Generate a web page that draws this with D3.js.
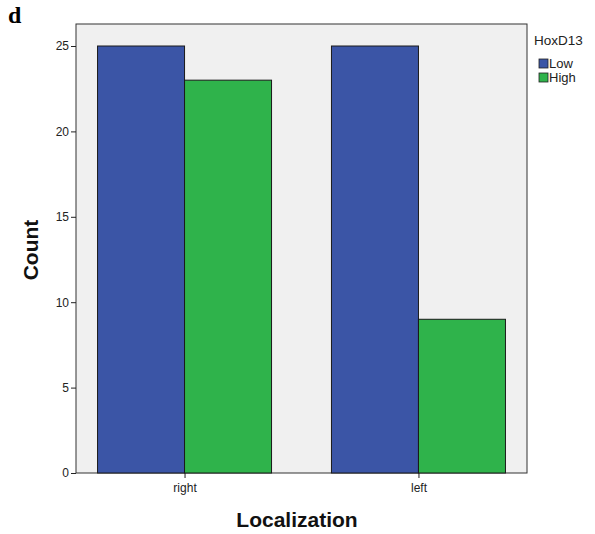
<!DOCTYPE html>
<html>
<head>
<meta charset="utf-8">
<script src="https://cdn.jsdelivr.net/npm/d3@7"></script>
<style>
  body { margin: 0; background: #fff; }
  svg { display: block; }
</style>
</head>
<body>
<div id="chart"></div>
<script>
// 데이터
const categories = ['right', 'left'];
const groups = ['Low', 'High'];
const lowValues = [25, 25];
const highValues = [23, 9];
const yTicks = [0, 5, 10, 15, 20, 25];
const colors = { Low: '#3b55a6', High: '#2fb34b' };

const W = 595, H = 534;
const plot = { left: 76, right: 527, top: 24, bottom: 473 };

const svg = d3.select('#chart').append('svg')
    .attr('width', W)
    .attr('height', H)
    .style('font-family', 'Arial, "Liberation Sans", sans-serif');

// 스케일
const x0 = d3.scalePoint()
    .domain(categories)
    .range([plot.left, plot.right])
    .padding(0.464);
const x1 = d3.scaleBand()
    .domain(groups)
    .range([-87, 87]);
const y = d3.scaleLinear()
    .domain([0, 25])
    .range([plot.bottom, 46]);

// 배경 프레임
svg.append('rect')
    .attr('x', plot.left)
    .attr('y', plot.top)
    .attr('width', plot.right - plot.left)
    .attr('height', plot.bottom - plot.top)
    .style('fill', '#f0f0f0')
    .style('stroke', '#333')
    .style('stroke-width', 1);

// 막대
const rows = categories.map((c, i) => ({ cat: c, Low: lowValues[i], High: highValues[i] }));
svg.append('g').selectAll('g')
    .data(rows)
    .join('g')
    .attr('transform', d => `translate(${x0(d.cat)},0)`)
    .selectAll('rect')
    .data(d => groups.map(k => ({ key: k, value: d[k] })))
    .join('rect')
    .attr('x', d => x1(d.key))
    .attr('y', d => y(d.value))
    .attr('width', x1.bandwidth())
    .attr('height', d => y(0) - y(d.value))
    .style('fill', d => colors[d.key])
    .style('stroke', '#1a1a1a')
    .style('stroke-width', 1);

// 축
const yAxis = svg.append('g')
    .attr('transform', `translate(${plot.left},0)`)
    .call(d3.axisLeft(y).tickValues(yTicks).tickSize(5).tickPadding(2));
const xAxis = svg.append('g')
    .attr('transform', `translate(0,${plot.bottom})`)
    .call(d3.axisBottom(x0).tickSize(5).tickPadding(5));
[yAxis, xAxis].forEach(a => {
    a.select('.domain').remove();
    a.selectAll('line').style('stroke', '#222');
    a.selectAll('text').style('font-size', '12px').style('fill', '#222').style('font-family', 'Arial, "Liberation Sans", sans-serif');
});

// 축 제목
svg.append('text')
    .attr('transform', 'translate(38,250) rotate(-90)')
    .attr('text-anchor', 'middle')
    .style('font-size', '21px')
    .style('font-weight', 'bold')
    .style('fill', '#111')
    .text('Count');
svg.append('text')
    .attr('x', 297)
    .attr('y', 527)
    .attr('text-anchor', 'middle')
    .style('font-size', '21px')
    .style('font-weight', 'bold')
    .style('fill', '#111')
    .text('Localization');

// 패널 라벨
svg.append('text')
    .attr('x', 8)
    .attr('y', 23)
    .style('font-family', '"Liberation Serif", "Times New Roman", serif')
    .style('font-size', '24px')
    .style('font-weight', 'bold')
    .text('d');

// 범례
svg.append('text')
    .attr('x', 534)
    .attr('y', 45)
    .style('font-size', '13.5px')
    .style('fill', '#222')
    .text('HoxD13');
const legend = svg.append('g').selectAll('g')
    .data(groups)
    .join('g')
    .attr('transform', (d, i) => `translate(539,${59 + i * 14})`);
legend.append('rect')
    .attr('width', 9)
    .attr('height', 9)
    .style('fill', d => colors[d])
    .style('stroke', '#222')
    .style('stroke-width', 0.8);
legend.append('text')
    .attr('x', 10)
    .attr('y', 9)
    .style('font-size', '13px')
    .style('fill', '#222')
    .text(d => d);
</script>
</body>
</html>
